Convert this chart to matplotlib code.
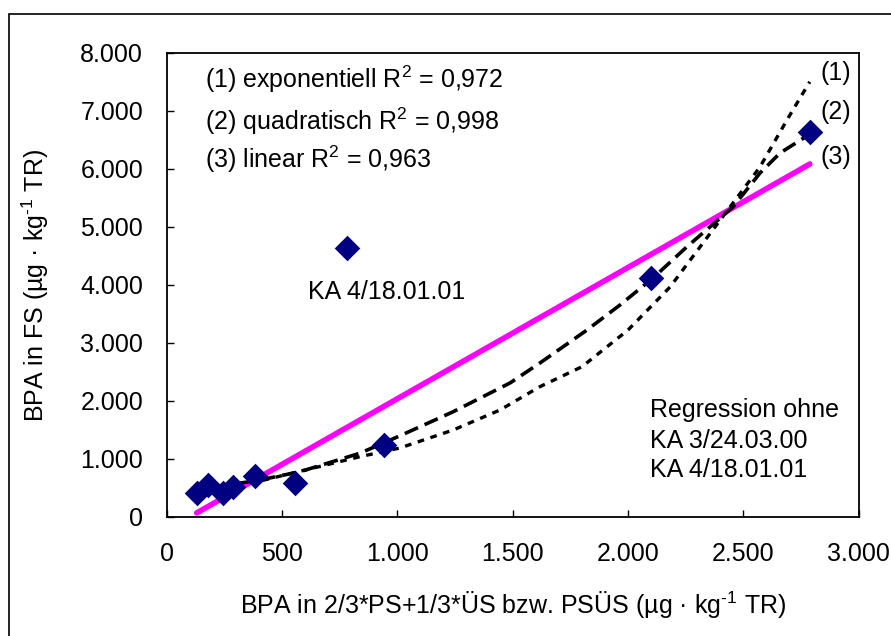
import matplotlib.pyplot as plt
from matplotlib.patches import Rectangle
from matplotlib.ticker import FuncFormatter

# measured points (x: 2/3*PS+1/3*ÜS bzw. PSÜS, y: FS), µg/kg TR
x_points = [130, 180, 245, 287, 383, 556, 942, 781, 2099, 2788]
y_points = [414, 552, 414, 517, 707, 586, 1241, 4630, 4120, 6630]

# trend lines
exp_x = [130, 404, 838, 1011, 1242, 1445, 1618, 1800, 2000, 2182, 2312, 2442, 2572, 2689, 2788]
exp_y = [450, 620, 1040, 1190, 1500, 1845, 2247, 2590, 3224, 3965, 4655, 5345, 6035, 6845, 7505]
quad_x = [130, 404, 578, 838, 1011, 1242, 1488, 1618, 1822, 1965, 2108, 2254, 2455, 2572, 2659, 2788]
quad_y = [465, 638, 781, 1100, 1400, 1815, 2310, 2655, 3224, 3655, 4120, 4655, 5345, 5930, 6276, 6600]
lin_x = [130, 2788]
lin_y = [70, 6086]

x_ticks = [0, 500, 1000, 1500, 2000, 2500, 3000]
y_ticks = [0, 1000, 2000, 3000, 4000, 5000, 6000, 7000, 8000]

plt.rcParams['font.family'] = ['Liberation Sans', 'DejaVu Sans']
plt.rcParams['mathtext.fontset'] = 'custom'
plt.rcParams['mathtext.rm'] = 'Liberation Sans'
plt.rcParams['mathtext.it'] = 'Liberation Sans'

fs = 18

fig = plt.figure(figsize=(8.91, 6.36), dpi=100)
ax = fig.add_axes([166.7 / 891, 1 - 517 / 636, 692 / 891, 464 / 636])

# outer chart frame
fig.patches.append(Rectangle((9 / 891, -0.02), 1.1, 1 - 14 / 636 + 0.02,
                             transform=fig.transFigure, fill=False, lw=1.2, ec='black'))

ax.plot(lin_x, lin_y, color='#FF00FF', lw=4, solid_capstyle='round', zorder=2)
ax.plot(quad_x, quad_y, color='black', lw=2.6, ls=(0, (4, 2)), zorder=3)
ax.plot(exp_x, exp_y, color='black', lw=2.4, ls=(0, (2, 2)), zorder=3)
ax.scatter(x_points, y_points, marker='D', s=170, color='#000080', zorder=4, linewidths=0)

ax.set_xlim(0, 3000)
ax.set_ylim(0, 8000)
ax.set_xticks(x_ticks)
ax.set_yticks(y_ticks)
de_fmt = FuncFormatter(lambda v, p: '{:,.0f}'.format(v).replace(',', '.'))
ax.xaxis.set_major_formatter(de_fmt)
ax.yaxis.set_major_formatter(de_fmt)
ax.tick_params(direction='in', length=5, width=1, labelsize=fs)
ax.tick_params(axis='y', pad=17)
ax.tick_params(axis='x', pad=18)
for s in ax.spines.values():
    s.set_linewidth(1.3)

sup = r'$^{\mathregular{' + '\u2010' + '1}}$'
ax.set_xlabel('BPA in 2/3*PS+1/3*ÜS bzw. PSÜS (µg · kg' + sup + ' TR)', fontsize=fs)
ax.set_ylabel('BPA in FS (µg · kg' + sup + ' TR)', fontsize=fs)
ax.xaxis.set_label_coords(0.5, (517 - 605) / 464)
ax.yaxis.set_label_coords((35 - 166.7) / 692, 0.5)
ax.xaxis.label.set_va('center')
ax.yaxis.label.set_va('center')

r2 = r'R$^{\mathregular{2}}$'
ax.text(166, 7550, '(1) exponentiell ' + r2 + ' = 0,972', fontsize=fs, va='center')
ax.text(166, 6825, '(2) quadratisch ' + r2 + ' = 0,998', fontsize=fs, va='center')
ax.text(166, 6170, '(3) linear ' + r2 + ' = 0,963', fontsize=fs, va='center')
ax.text(953, 3885, 'KA 4/18.01.01', fontsize=fs, ha='center', va='center')
ax.text(2095, 1845, 'Regression ohne', fontsize=fs, va='center')
ax.text(2095, 1310, 'KA 3/24.03.00', fontsize=fs, va='center')
ax.text(2095, 810, 'KA 4/18.01.01', fontsize=fs, va='center')
for lab, yy in [('(1)', 7655), ('(2)', 6983), ('(3)', 6207)]:
    ax.text(2901, yy, lab, fontsize=fs, ha='center', va='center', clip_on=False)

fig.savefig('out.png', dpi=100)
